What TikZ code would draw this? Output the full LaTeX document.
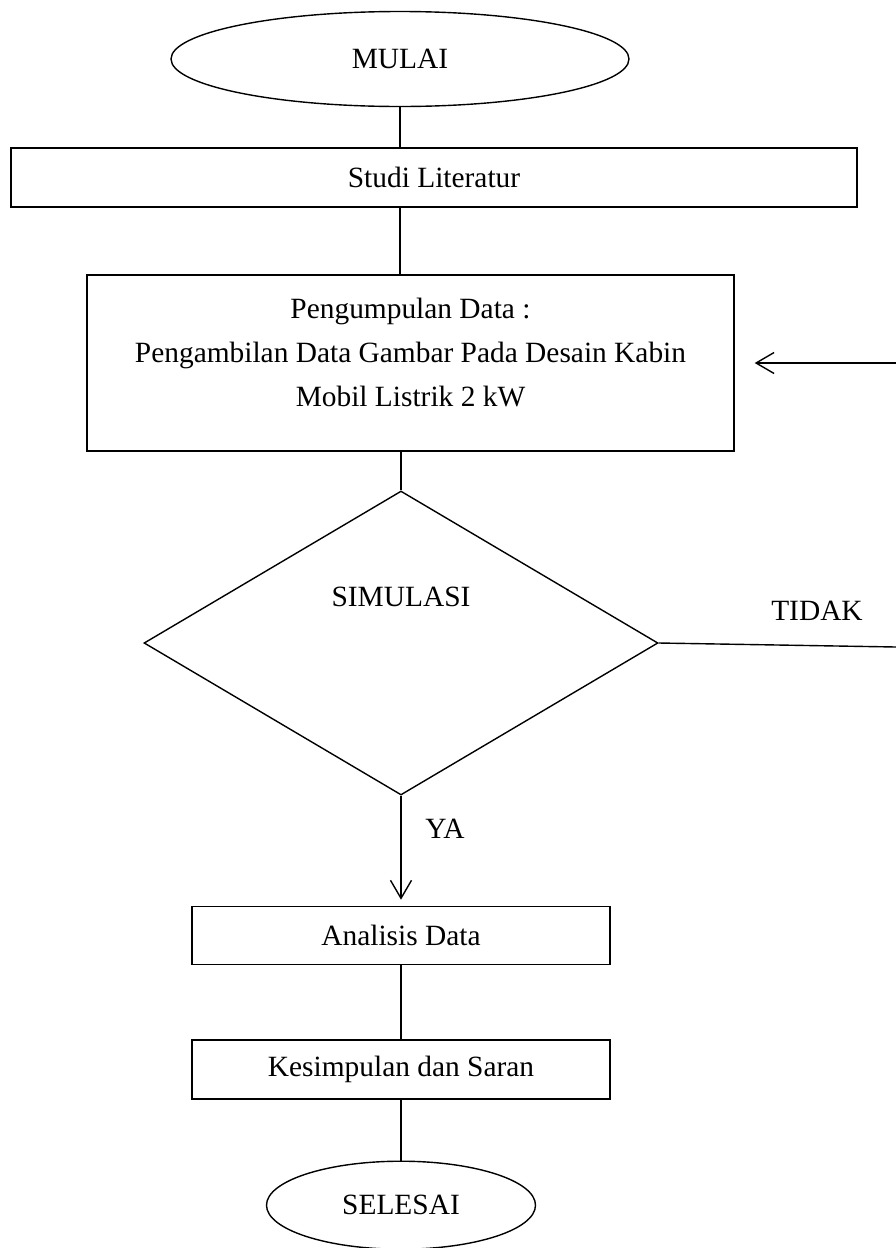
\documentclass[tikz,border=0pt]{standalone}
\usepackage{fontspec}
\setmainfont{Liberation Serif}
\usepackage{tikz}
\usetikzlibrary{shapes,arrows.meta,positioning,shapes.geometric}

\begin{document}
\begin{tikzpicture}[
    x=1pt, y=1pt,
    every node/.style={font=\fontsize{29.4}{44}\selectfont},
    box/.style={draw, line width=1.4pt, rectangle, inner sep=0pt, align=center},
    oval/.style={draw, line width=1.4pt, ellipse, inner sep=0pt},
    decision/.style={draw, line width=1.4pt, diamond, inner sep=0pt, minimum width=514pt, minimum height=304pt},
    conn/.style={line width=1.4pt},
    arr/.style={line width=1.4pt, -{Straight Barb[length=18pt, width=21pt, line width=1.4pt]}}
  ]
    \useasboundingbox (0,0) rectangle (896,-1248);
    \node[oval, minimum width=458pt, minimum height=95pt] (mulai) at (400,-59) {MULAI};
    \node[box, minimum width=846pt, minimum height=59pt] (studi) at (434,-177.5) {Studi Literatur};
    \node[box, minimum width=647pt, minimum height=176pt] (kumpul) at (410.5,-363)
      {Pengumpulan Data :\\Pengambilan Data Gambar Pada Desain Kabin\\Mobil Listrik 2 kW\rule[-22pt]{0pt}{0pt}};
    \node[decision] (sim) at (401,-643) {};
    \node (simtxt) at ([yshift=46pt]sim.center) {SIMULASI};
    \node[box, below=110pt of sim, minimum width=418pt, minimum height=58pt] (analisis) {Analisis Data};
    \node[box, below=74pt of analisis, minimum width=418pt, minimum height=59pt] (kesimpulan) {Kesimpulan dan Saran};
    \node[oval, below=61pt of kesimpulan, minimum width=269pt, minimum height=88pt] (selesai) {SELESAI};
    \node (tidak) at (817,-611) {TIDAK};
    \node (ya) at (445,-829) {YA};
    \coordinate (keluar) at (896,-647);
    \coordinate (kanan) at (896,-363);

    \draw[conn] (mulai.south) -- (mulai.south |- studi.north);
    \draw[conn] (mulai.south |- studi.south) -- (mulai.south |- kumpul.north);
    \draw[conn] (sim.north |- kumpul.south) -- (sim.north);
    \draw[conn] (sim.east) -- (keluar);
    \draw[arr, shorten >=20pt] (kanan) -- (kumpul.east);
    \draw[arr, shorten >=6pt] (sim.south) -- (analisis.north);
    \draw[conn] (analisis.south) -- (kesimpulan.north);
    \draw[conn] (kesimpulan.south) -- (selesai.north);
  \end{tikzpicture}
\end{document}
